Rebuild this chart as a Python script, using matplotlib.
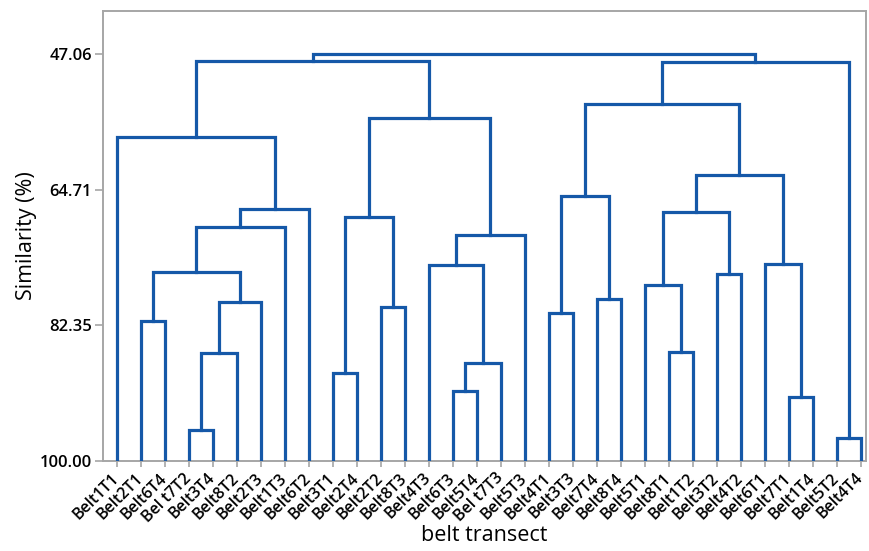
import matplotlib
matplotlib.use("Agg")
import matplotlib.pyplot as plt

# leaf labels in dendrogram order
labels = ["Belt1T1", "Belt2T1", "Belt6T4", "Bel t7T2", "Belt3T4", "Belt8T2",
          "Belt2T3", "Belt1T3", "Belt6T2", "Belt3T1", "Belt2T4", "Belt2T2",
          "Belt8T3", "Belt4T3", "Belt6T3", "Belt5T4", "Bel t7T3", "Belt5T3",
          "Belt4T1", "Belt3T3", "Belt7T4", "Belt8T4", "Belt5T1", "Belt8T1",
          "Belt1T2", "Belt3T2", "Belt4T2", "Belt6T1", "Belt7T1", "Belt1T4",
          "Belt5T2", "Belt4T4"]

# merges: node ids 0..31 are leaves, each merge creates node 32, 33, ...
merge_a = [3, 32, 1, 33, 34, 36, 37, 0, 9, 11, 40, 14, 43, 13, 45, 42, 39,
           18, 20, 49, 23, 22, 25, 53, 28, 27, 55, 51, 30, 59, 48]
merge_b = [4, 5, 2, 6, 35, 7, 8, 38, 10, 12, 41, 15, 16, 44, 17, 46, 47,
           19, 21, 50, 24, 52, 26, 54, 29, 56, 57, 58, 31, 60, 61]
similarity = [96.0, 86.0, 81.84, 79.33, 75.46, 69.56, 67.22, 57.88,
              88.58, 79.94, 68.30, 90.92, 87.28, 74.47, 70.60, 55.40, 47.9,
              80.72, 78.90, 65.52, 85.84, 77.16, 75.68, 67.65, 91.74, 74.42,
              62.75, 53.54, 97.04, 48.1, 47.06]

yticks = [47.06, 64.71, 82.35, 100.00]

line_color = "#1558a8"
grey = "#a6a6a6"
plt.rcParams["font.family"] = ["Open Sans", "DejaVu Sans"]

fig = plt.figure(figsize=(8.69, 5.51), dpi=100)
ax = fig.add_axes([0.1185, 0.164, 0.878, 0.816])

xpos = {i: float(i) for i in range(len(labels))}
height = {i: 100.0 for i in range(len(labels))}
for k, (a, b, s) in enumerate(zip(merge_a, merge_b, similarity)):
    node = len(labels) + k
    xa, xb = xpos[a], xpos[b]
    ax.plot([xa, xa, xb, xb], [height[a], s, s, height[b]],
            color=line_color, lw=2.3, solid_joinstyle="miter", zorder=3)
    xpos[node] = (xa + xb) / 2
    height[node] = s

ax.set_xlim(-0.57, 31.22)
ax.set_ylim(100, 41.43)

ax.set_yticks(yticks)
ax.set_yticklabels(["%.2f" % v for v in yticks], fontsize=12,
                   fontweight="semibold")
ax.set_xticks(range(len(labels)))
ax.set_xticklabels(labels, rotation=45, ha="right", va="center",
                   rotation_mode="anchor", fontsize=11.5, fontweight="semibold")
ax.tick_params(axis="y", color=grey, length=6, width=1.2, pad=2)
ax.tick_params(axis="x", color=grey, length=4, width=1.2, pad=7)

for sp in ax.spines.values():
    sp.set_color(grey)
    sp.set_linewidth(1.4)

ax.set_ylabel("Similarity (%)", fontsize=15.5, fontweight="medium", labelpad=2)
ax.set_xlabel("belt transect", fontsize=15.5, fontweight="medium", labelpad=0)

fig.savefig("out.png", dpi=100)
